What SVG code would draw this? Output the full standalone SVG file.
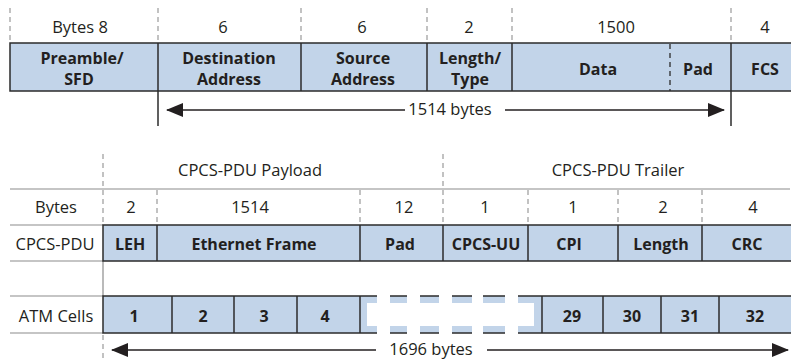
<svg xmlns="http://www.w3.org/2000/svg" width="791" height="360" viewBox="0 0 791 360">
<defs>
<style>
.t{font-family:"Open Sans","Noto Sans",sans-serif;font-size:16.5px;fill:#231f20;text-anchor:middle}
.b{font-weight:bold;font-size:16px}
.box{fill:#c2d4e9;stroke:#2b2b2b;stroke-width:1.5}
.div{stroke:#2b2b2b;stroke-width:1.5}
.dd{stroke:#2b2b2b;stroke-width:1.3;stroke-dasharray:5 4}
.gd{stroke:#9a9a9a;stroke-width:1.2;stroke-dasharray:5 4}
.gl{stroke:#8c8c8c;stroke-width:1.2}
.arr{stroke:#231f20;stroke-width:1.5;fill:none}
</style>
<marker id="ah" viewBox="0 0 17 14" refX="16" refY="7" markerWidth="17" markerHeight="14" markerUnits="userSpaceOnUse" orient="auto-start-reverse">
<path d="M0,0 L17,7 L0,14 Z" fill="#231f20"/>
</marker>
</defs>

<g id="connectors">
<line class="gd" x1="10" y1="8" x2="10" y2="43"/>
<line class="gd" x1="158" y1="8" x2="158" y2="43"/>
<line class="gd" x1="301" y1="8" x2="301" y2="43"/>
<line class="gd" x1="427" y1="8" x2="427" y2="43"/>
<line class="gd" x1="512" y1="8" x2="512" y2="43"/>
<line class="gd" x1="731" y1="8" x2="731" y2="43"/>
<line class="div" x1="158" y1="91" x2="158" y2="126"/>
<line class="div" x1="731" y1="91" x2="731" y2="126"/>
<line class="arr" x1="167" y1="110" x2="405" y2="110" marker-start="url(#ah)"/>
<line class="arr" x1="505" y1="110" x2="724" y2="110" marker-end="url(#ah)"/>
<line class="gl" x1="10" y1="189" x2="790" y2="189"/>
<line class="gl" x1="10" y1="225" x2="103" y2="225"/>
<line class="gl" x1="10" y1="261" x2="103" y2="261"/>
<line class="gl" x1="10" y1="296" x2="103" y2="296"/>
<line class="gl" x1="10" y1="333" x2="103" y2="333"/>
<line class="gl" x1="103" y1="261" x2="103" y2="296"/>
<line class="gd" x1="103" y1="154" x2="103" y2="224"/>
<line class="gd" x1="443" y1="154" x2="443" y2="224"/>
<line class="gd" x1="157" y1="190" x2="157" y2="224"/>
<line class="gd" x1="360" y1="190" x2="360" y2="224"/>
<line class="gd" x1="528" y1="190" x2="528" y2="224"/>
<line class="gd" x1="618" y1="190" x2="618" y2="224"/>
<line class="gd" x1="702" y1="190" x2="702" y2="224"/>
<line class="gd" x1="103" y1="335" x2="103" y2="360"/>
<line class="arr" x1="112" y1="350" x2="376" y2="350" marker-start="url(#ah)"/>
<line class="arr" x1="487" y1="350" x2="788" y2="350" marker-end="url(#ah)"/>
</g>

<g id="top-labels">
<text class="t" x="80" y="33">Bytes 8</text>
<text class="t" x="223" y="33">6</text>
<text class="t" x="362" y="33">6</text>
<text class="t" x="469" y="33">2</text>
<text class="t" x="616" y="33">1500</text>
<text class="t" x="765" y="33">4</text>
<text class="t" x="450" y="115">1514 bytes</text>
</g>

<g id="ethernet-frame">
<rect class="box" x="10" y="43" width="790" height="48"/>
<line class="div" x1="158" y1="43" x2="158" y2="91"/>
<line class="div" x1="301" y1="43" x2="301" y2="91"/>
<line class="div" x1="427" y1="43" x2="427" y2="91"/>
<line class="div" x1="512" y1="43" x2="512" y2="91"/>
<line class="dd" x1="670" y1="44" x2="670" y2="91"/>
<line class="div" x1="731" y1="43" x2="731" y2="91"/>
</g>
<g id="preamble"><text class="t b" x="82" y="64">Preamble/</text><text class="t b" x="79" y="85">SFD</text></g>
<g id="dest"><text class="t b" x="229" y="64">Destination</text><text class="t b" x="229" y="85">Address</text></g>
<g id="src"><text class="t b" x="363" y="64">Source</text><text class="t b" x="363" y="85">Address</text></g>
<g id="lentype"><text class="t b" x="470" y="64">Length/</text><text class="t b" x="470" y="85">Type</text></g>
<g id="data"><text class="t b" x="598" y="75">Data</text></g>
<g id="pad1"><text class="t b" x="698" y="75">Pad</text></g>
<g id="fcs"><text class="t b" x="765" y="75">FCS</text></g>

<g id="bottom-labels">
<text class="t" x="250" y="176">CPCS-PDU Payload</text>
<text class="t" x="618" y="176">CPCS-PDU Trailer</text>
<text class="t" x="56" y="213">Bytes</text>
<text class="t" x="131" y="213">2</text>
<text class="t" x="250" y="213">1514</text>
<text class="t" x="404" y="213">12</text>
<text class="t" x="485" y="213">1</text>
<text class="t" x="573" y="213">1</text>
<text class="t" x="663" y="213">2</text>
<text class="t" x="753" y="213">4</text>
<text class="t" x="55" y="250">CPCS-PDU</text>
<text class="t" x="56" y="322">ATM Cells</text>
<text class="t" x="431" y="355">1696 bytes</text>
</g>

<g id="cpcs-pdu">
<rect class="box" x="103" y="225" width="697" height="36"/>
<line class="div" x1="157" y1="225" x2="157" y2="261"/>
<line class="div" x1="360" y1="225" x2="360" y2="261"/>
<line class="div" x1="443" y1="225" x2="443" y2="261"/>
<line class="div" x1="528" y1="225" x2="528" y2="261"/>
<line class="div" x1="618" y1="225" x2="618" y2="261"/>
<line class="div" x1="702" y1="225" x2="702" y2="261"/>
<text class="t b" x="130" y="250">LEH</text>
<text class="t b" x="254" y="250">Ethernet Frame</text>
<text class="t b" x="400" y="250">Pad</text>
<text class="t b" x="486" y="250">CPCS-UU</text>
<text class="t b" x="569" y="250">CPI</text>
<text class="t b" x="661" y="250">Length</text>
<text class="t b" x="747" y="250">CRC</text>
</g>

<g id="atm-cells">
<rect class="box" x="103" y="296" width="697" height="37"/>
<rect fill="#ffffff" x="367" y="303" width="167" height="23"/>
<g fill="#ffffff">
<rect x="377" y="294" width="13" height="41"/>
<rect x="407" y="294" width="13" height="41"/>
<rect x="439" y="294" width="13" height="41"/>
<rect x="472" y="294" width="11" height="41"/>
<rect x="505" y="294" width="13" height="41"/>
</g>
<line class="div" x1="172" y1="296" x2="172" y2="333"/>
<line class="div" x1="234" y1="296" x2="234" y2="333"/>
<line class="div" x1="297" y1="296" x2="297" y2="333"/>
<line class="div" x1="360" y1="296" x2="360" y2="333"/>
<line class="div" x1="542" y1="296" x2="542" y2="333"/>
<line class="div" x1="603" y1="296" x2="603" y2="333"/>
<line class="div" x1="661" y1="296" x2="661" y2="333"/>
<line class="div" x1="719" y1="296" x2="719" y2="333"/>
<text class="t b" x="134" y="322">1</text>
<text class="t b" x="203" y="322">2</text>
<text class="t b" x="264" y="322">3</text>
<text class="t b" x="325" y="322">4</text>
<text class="t b" x="572" y="322">29</text>
<text class="t b" x="632" y="322">30</text>
<text class="t b" x="690" y="322">31</text>
<text class="t b" x="755" y="322">32</text>
</g>
</svg>
